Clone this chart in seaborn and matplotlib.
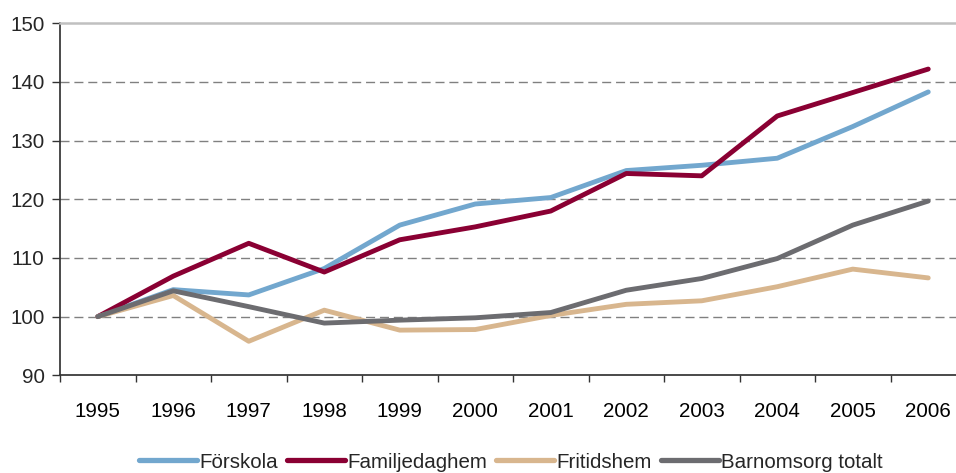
import numpy as np
import pandas as pd
import matplotlib
matplotlib.use("Agg")
import matplotlib.pyplot as plt
import seaborn as sns

# Index, 1995 = 100
years = list(range(1995, 2007))
forskola = [100, 104.6, 103.7, 108.2, 115.6, 119.2, 120.3, 124.9, 125.8, 127.0, 132.4, 138.3]
familjedaghem = [100, 106.9, 112.5, 107.6, 113.1, 115.3, 118.0, 124.4, 124.0, 134.2, 138.2, 142.2]
fritidshem = [100, 103.6, 95.8, 101.1, 97.7, 97.8, 100.2, 102.1, 102.7, 105.1, 108.1, 106.6]
barnomsorg = [100, 104.4, 101.7, 98.9, 99.4, 99.8, 100.7, 104.5, 106.5, 109.9, 115.6, 119.7]

series_names = ["Förskola", "Familjedaghem", "Fritidshem", "Barnomsorg totalt"]
colors = ["#72A7CE", "#8A0033", "#D8B68E", "#6C6C70"]

df = pd.DataFrame({
    "year": years * 4,
    "value": forskola + familjedaghem + fritidshem + barnomsorg,
    "series": sum([[n] * len(years) for n in series_names], []),
})

sns.set_theme(style="white")
plt.rcParams["font.family"] = ["Liberation Sans", "DejaVu Sans"]

fig = plt.figure(figsize=(9.56, 4.73), dpi=100)
ax = fig.add_axes([60 / 956, 1 - 375.3 / 473, 906 / 956, 352 / 473])

sns.lineplot(data=df, x="year", y="value", hue="series", hue_order=series_names,
             palette=colors, linewidth=3.5, ax=ax, legend=False)

ax.set_xlim(1994.5, 2006.5)
ax.set_ylim(90, 150)
ax.set_yticks(range(90, 151, 10))
ax.set_xticks(years)
ax.set_xticklabels([str(y) for y in years])
ax.set_xticks([y - 0.5 for y in years] + [2006.5], minor=True)
ax.tick_params(axis="x", which="major", length=0, pad=19, labelsize=14.8, colors="black")
ax.tick_params(axis="x", which="minor", length=5, width=1, color="#333333", direction="out", bottom=True)
ax.tick_params(axis="y", length=6, width=1, color="#333333", direction="out", left=True, labelsize=14.8, pad=5)
ax.set_xlabel("")
ax.set_ylabel("")

for y in range(100, 150, 10):
    ax.axhline(y, color="#808080", linewidth=1, linestyle=(0, (6.5, 3.5)), zorder=0)

ax.spines["left"].set_color("#333333")
ax.spines["bottom"].set_color("#333333")
ax.spines["top"].set_color("#C0C0C0")
ax.spines["top"].set_linewidth(1.8)
ax.spines["right"].set_visible(False)

handles = [plt.Line2D([], [], color=c, linewidth=3.8) for c in colors]
fig.legend(handles, series_names, loc="center", bbox_to_anchor=(511 / 956, 1 - 462 / 473),
           ncol=4, frameon=False, fontsize=14.8, handlelength=2.8, handletextpad=0.12,
           columnspacing=0.45, borderaxespad=0)

fig.savefig("out.png", dpi=100)
